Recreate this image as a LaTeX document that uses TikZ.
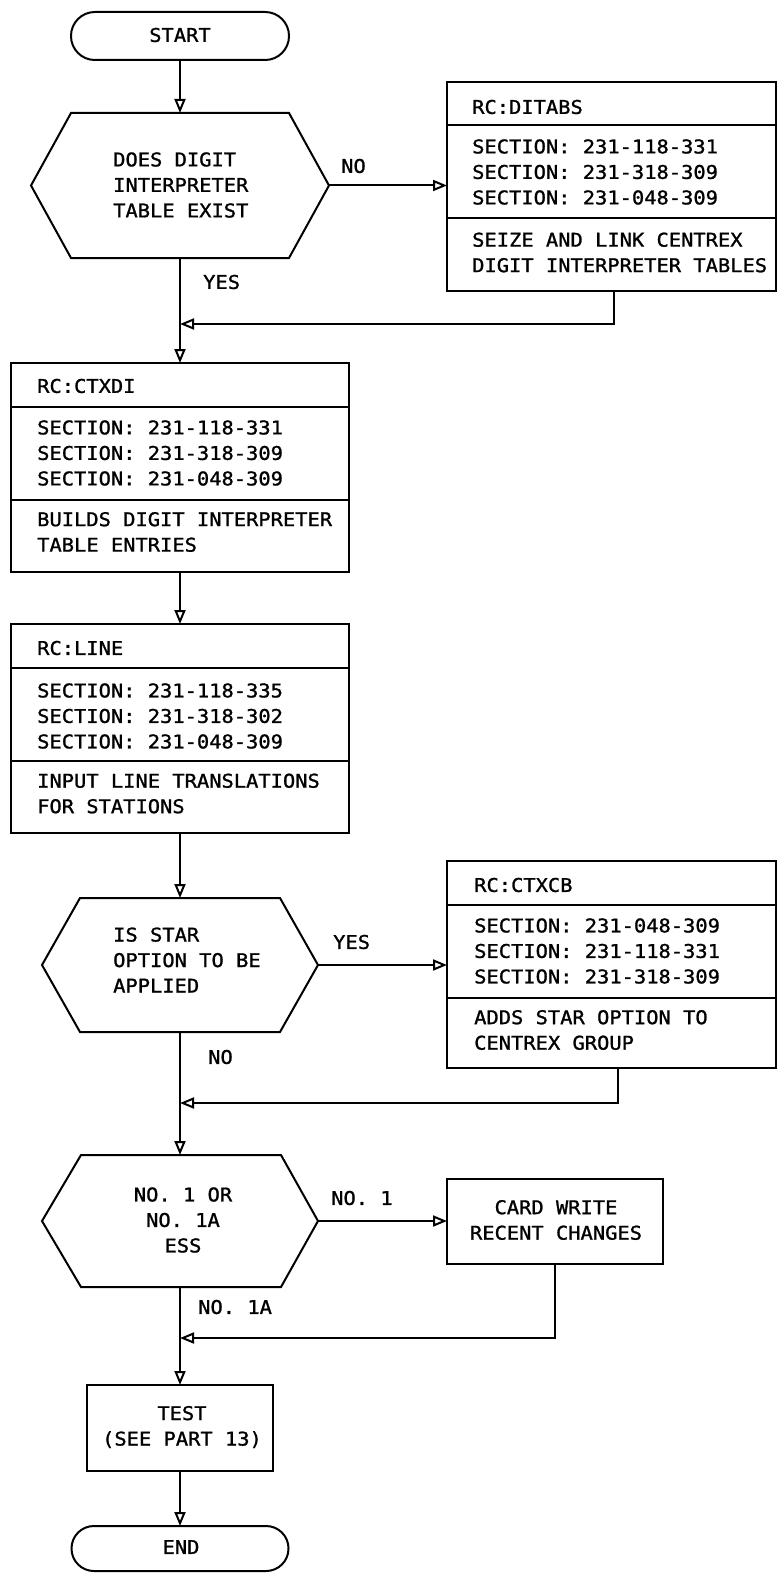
\documentclass[tikz,border=0pt]{standalone}
\usepackage{fontspec}
\newfontfamily\diag[FakeStretch=1.08,FakeBold=1.2]{DejaVu Sans Mono}
\usetikzlibrary{arrows.meta,calc}
\begin{document}
\begin{tikzpicture}[x=1pt,y=-1pt,
  lw/.style={line width=2pt},
  arr/.style={lw,-{Triangle[open,length=14pt,width=11pt,line width=2pt]}},
  txt/.style={font=\diag\fontsize{18.9}{25.5}\selectfont, inner sep=0pt},
  ltxt/.style={txt,anchor=west,align=left},
  ctxt/.style={txt,align=center},
  box/.style={draw,lw,rectangle,inner sep=0pt,outer sep=0pt,anchor=north west},
  bigbox/.style={box,minimum height=209pt},
  hexn/.style={draw=none,inner sep=0pt,outer sep=0pt},
  term/.style={draw,lw,inner sep=0pt,outer sep=0pt},
]
\useasboundingbox (0,0) rectangle (778,1573);

% ---------- terminals ----------
\node[term,rounded corners=23.9pt,minimum width=218pt,minimum height=48pt] (start) at (180,36) {};
\node[txt] (starttxt) at (180,35) {START};

% ---------- decision 1 ----------
\node[hexn,minimum width=298pt,minimum height=145pt] (h1) at (180,185.5) {};
\draw[lw] (h1.west) -- ([xshift=40pt]h1.north west) -- ([xshift=-40pt]h1.north east)
  -- (h1.east) -- ([xshift=-40pt]h1.south east) -- ([xshift=40pt]h1.south west) -- cycle;
\node[ltxt] (h1txt) at (113,185) {DOES DIGIT\\INTERPRETER\\TABLE EXIST};

% ---------- RC:DITABS ----------
\node[bigbox,minimum width=329pt] (ditabs) at (447,82) {};
\draw[lw] ([yshift=-43pt]ditabs.north west) -- ([yshift=-43pt]ditabs.north east);
\draw[lw] ([yshift=-136pt]ditabs.north west) -- ([yshift=-136pt]ditabs.north east);
\node[ltxt] (d1) at (472,107) {RC:DITABS};
\node[ltxt] (d2) at (472,172) {SECTION: 231-118-331\\SECTION: 231-318-309\\SECTION: 231-048-309};
\node[ltxt] (d3) at (472,252.5) {SEIZE AND LINK CENTREX\\DIGIT INTERPRETER TABLES};

% ---------- RC:CTXDI ----------
\node[bigbox,minimum width=338pt] (ctxdi) at (11,363) {};
\draw[lw] ([yshift=-44pt]ctxdi.north west) -- ([yshift=-44pt]ctxdi.north east);
\draw[lw] ([yshift=-137pt]ctxdi.north west) -- ([yshift=-137pt]ctxdi.north east);
\node[ltxt] (c1) at (37,386) {RC:CTXDI};
\node[ltxt] (c2) at (37,453) {SECTION: 231-118-331\\SECTION: 231-318-309\\SECTION: 231-048-309};
\node[ltxt] (c3) at (37,532) {BUILDS DIGIT INTERPRETER\\TABLE ENTRIES};

% ---------- RC:LINE ----------
\node[bigbox,minimum width=338pt] (rcline) at (11,624) {};
\draw[lw] ([yshift=-44pt]rcline.north west) -- ([yshift=-44pt]rcline.north east);
\draw[lw] ([yshift=-137pt]rcline.north west) -- ([yshift=-137pt]rcline.north east);
\node[ltxt] (l1) at (37,648) {RC:LINE};
\node[ltxt] (l2) at (37,716) {SECTION: 231-118-335\\SECTION: 231-318-302\\SECTION: 231-048-309};
\node[ltxt] (l3) at (37,793.5) {INPUT LINE TRANSLATIONS\\FOR STATIONS};

% ---------- decision 2 ----------
\node[hexn,minimum width=276pt,minimum height=134pt] (star) at (180,965) {};
\draw[lw] (star.west) -- ([xshift=38pt]star.north west) -- ([xshift=-38pt]star.north east)
  -- (star.east) -- ([xshift=-38pt]star.south east) -- ([xshift=38pt]star.south west) -- cycle;
\node[ltxt] (startxt2) at (113,960) {IS STAR\\OPTION TO BE\\APPLIED};

% ---------- RC:CTXCB ----------
\node[box,minimum width=329pt,minimum height=207pt] (ctxcb) at (447,861) {};
\draw[lw] ([yshift=-44pt]ctxcb.north west) -- ([yshift=-44pt]ctxcb.north east);
\draw[lw] ([yshift=-137pt]ctxcb.north west) -- ([yshift=-137pt]ctxcb.north east);
\node[ltxt] (x1) at (474,885) {RC:CTXCB};
\node[ltxt] (x2) at (474,951) {SECTION: 231-048-309\\SECTION: 231-118-331\\SECTION: 231-318-309};
\node[ltxt] (x3) at (474,1030) {ADDS STAR OPTION TO\\CENTREX GROUP};

% ---------- decision 3 ----------
\node[hexn,minimum width=276pt,minimum height=132pt] (no1) at (180,1221) {};
\draw[lw] (no1.west) -- ([xshift=39pt]no1.north west) -- ([xshift=-37pt]no1.north east)
  -- (no1.east) -- ([xshift=-37pt]no1.south east) -- ([xshift=39pt]no1.south west) -- cycle;
\node[ctxt] (no1txt) at (183,1220) {NO. 1 OR\\NO. 1A\\ESS};

% ---------- card write ----------
\node[box,minimum width=216pt,minimum height=85pt] (card) at (447,1179) {};
\node[ctxt] (cardtxt) at (556,1220) {CARD WRITE\\RECENT CHANGES};

% ---------- test ----------
\node[box,minimum width=186pt,minimum height=86pt] (test) at (87,1385) {};
\node[ctxt] (testtxt) at (182,1427) {TEST\\(SEE PART 13)};

% ---------- end ----------
\node[term,rounded corners=22.4pt,minimum width=217pt,minimum height=45pt] (stop) at (180,1548.5) {};
\node[txt] (stoptxt) at (181,1547) {END};

% ---------- merge points ----------
\coordinate (m1) at (180,324);
\coordinate (m2) at (180,1103);
\coordinate (m3) at (180,1338);

% ---------- connectors ----------
\draw[arr] (start.south) -- (h1.north);
\draw[arr] (h1.east) -- (h1.east -| ditabs.west);
\draw[arr] ([xshift=2pt]ditabs.south) |- (m1);
\draw[arr] (h1.south) -- (ctxdi.north);
\draw[arr] (ctxdi.south) -- (rcline.north);
\draw[arr] (rcline.south) -- (star.north);
\draw[arr] (star.east) -- (star.east -| ctxcb.west);
\draw[arr] ([xshift=6pt]ctxcb.south) |- (m2);
\draw[arr] (star.south) -- (no1.north);
\draw[arr] (no1.east) -- (no1.east -| card.west);
\draw[arr] (card.south) |- (m3);
\draw[arr] (no1.south) -- (test.north);
\draw[arr] (test.south) -- (stop.north);

% ---------- labels ----------
\node[ltxt] (lno1) at (341,166) {NO};
\node[ltxt] (lyes1) at (203,282) {YES};
\node[ltxt] (lyes2) at (333,942) {YES};
\node[ltxt] (lno2) at (208,1057) {NO};
\node[ltxt] (lno3) at (331,1198) {NO. 1};
\node[ltxt] (lno4) at (198,1307) {NO. 1A};
\end{tikzpicture}
\end{document}
